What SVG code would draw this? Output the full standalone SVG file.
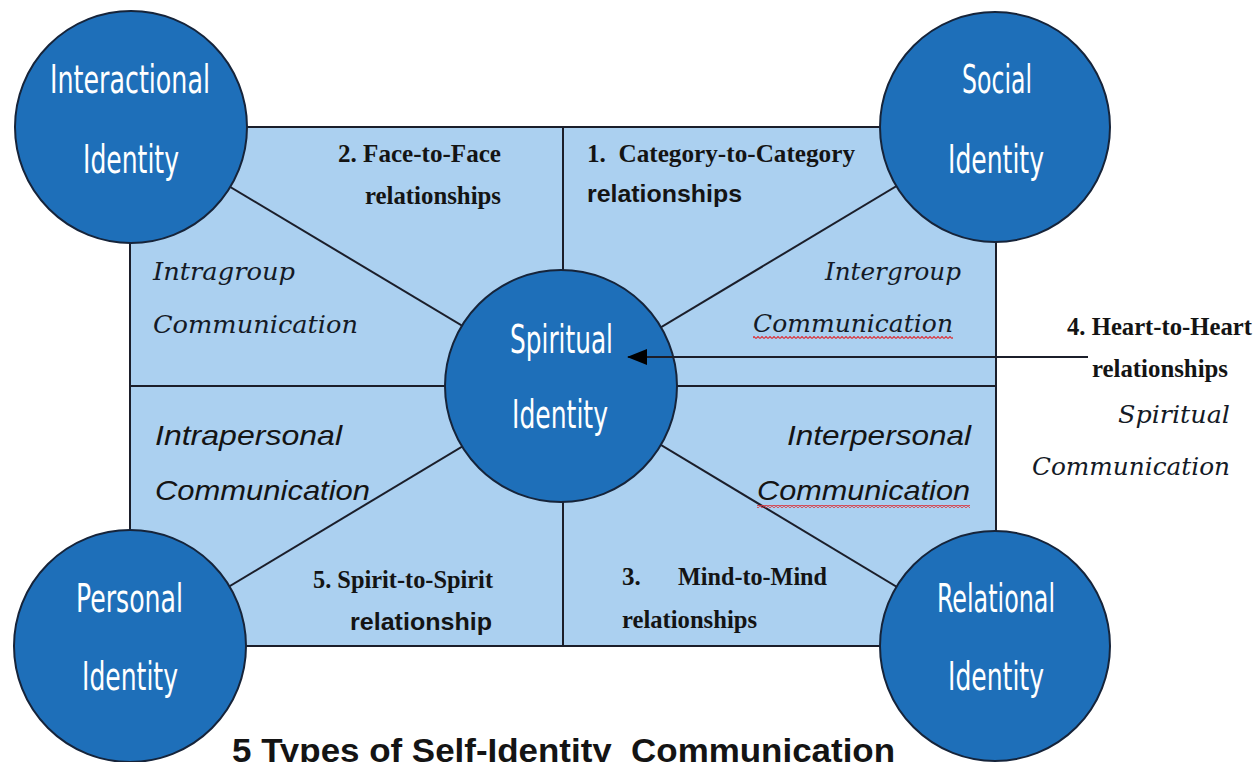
<svg xmlns="http://www.w3.org/2000/svg" width="1257" height="762" viewBox="0 0 1257 762">
  <defs>
    <style>
      .panel { fill: #abd0f0; stroke: #1b1e2a; stroke-width: 2; }
      .conn { stroke: #1b1e2a; stroke-width: 2; fill: none; }
      .node { fill: #1e6fb9; stroke: #16243a; stroke-width: 2; }
      .nt { fill: #ffffff; font-family: "Liberation Sans Narrow", "DejaVu Sans Condensed", "Liberation Sans", sans-serif; font-size: 39px; }
      .bs { fill: #141414; font-family: "Liberation Serif", "Times New Roman", serif; font-weight: bold; font-size: 25px; }
      .ba { fill: #141414; font-family: "Liberation Sans", Arial, sans-serif; font-weight: bold; font-size: 24px; }
      .is { fill: #141a26; font-family: "DejaVu Serif", "Liberation Serif", serif; font-style: italic; font-size: 24px; }
      .ia { fill: #141414; font-family: "Liberation Sans", Arial, sans-serif; font-style: italic; font-size: 28px; }
      .title { fill: #141414; font-family: "Liberation Sans", Arial, sans-serif; font-weight: bold; font-size: 33px; }
    </style>
    <pattern id="squig" x="0" y="0" width="4" height="3" patternUnits="userSpaceOnUse">
      <path d="M0,2.5 L2,0.5 L4,2.5" stroke="#d9363e" stroke-width="1.2" fill="none"/>
    </pattern>
    <marker id="arrow" markerWidth="20" markerHeight="16" refX="19" refY="8" orient="auto" markerUnits="userSpaceOnUse">
      <path d="M0,0 L20,8 L0,16 Z" fill="#000000"/>
    </marker>
  </defs>

  <rect width="1257" height="762" fill="#ffffff"/>

  <g id="panel">
    <rect class="panel" x="130" y="127" width="866" height="519"/>
  </g>

  <g id="connectors">
    <line class="conn" x1="563" y1="127" x2="563" y2="646"/>
    <line class="conn" x1="130" y1="386" x2="996" y2="386"/>
    <line class="conn" x1="130" y1="127" x2="563" y2="386"/>
    <line class="conn" x1="995" y1="127" x2="563" y2="386"/>
    <line class="conn" x1="130" y1="646" x2="563" y2="386"/>
    <line class="conn" x1="995" y1="646" x2="563" y2="386"/>
  </g>

  <g id="node-interactional">
    <circle class="node" cx="131" cy="127" r="116"/>
    <text class="nt" x="50" y="93" textLength="160" lengthAdjust="spacingAndGlyphs">Interactional</text>
    <text class="nt" x="83" y="173" textLength="96" lengthAdjust="spacingAndGlyphs">Identity</text>
  </g>
  <g id="node-social">
    <circle class="node" cx="995" cy="127" r="115"/>
    <text class="nt" x="962" y="93" textLength="70" lengthAdjust="spacingAndGlyphs">Social</text>
    <text class="nt" x="948" y="173" textLength="96" lengthAdjust="spacingAndGlyphs">Identity</text>
  </g>
  <g id="node-personal">
    <circle class="node" cx="130" cy="646" r="116"/>
    <text class="nt" x="76" y="612" textLength="107" lengthAdjust="spacingAndGlyphs">Personal</text>
    <text class="nt" x="82" y="690" textLength="96" lengthAdjust="spacingAndGlyphs">Identity</text>
  </g>
  <g id="node-relational">
    <circle class="node" cx="995" cy="646" r="115"/>
    <text class="nt" x="937" y="612" textLength="118" lengthAdjust="spacingAndGlyphs">Relational</text>
    <text class="nt" x="948" y="690" textLength="96" lengthAdjust="spacingAndGlyphs">Identity</text>
  </g>
  <g id="node-spiritual">
    <circle class="node" cx="561" cy="386" r="116"/>
    <text class="nt" x="510" y="353" textLength="103" lengthAdjust="spacingAndGlyphs">Spiritual</text>
    <text class="nt" x="512" y="428" textLength="96" lengthAdjust="spacingAndGlyphs">Identity</text>
  </g>

  <g id="arrow-heart">
    <line class="conn" x1="1088" y1="357" x2="628" y2="357" marker-end="url(#arrow)"/>
  </g>

  <g id="labels">
    <text class="bs" x="338" y="162" textLength="163" lengthAdjust="spacingAndGlyphs">2. Face-to-Face</text>
    <text class="bs" x="365" y="204" textLength="136" lengthAdjust="spacingAndGlyphs">relationships</text>

    <text class="bs" x="587" y="162" textLength="268" lengthAdjust="spacingAndGlyphs" xml:space="preserve">1.  Category-to-Category</text>
    <text class="ba" x="587" y="202" textLength="155" lengthAdjust="spacingAndGlyphs">relationships</text>

    <text class="is" x="153" y="280" textLength="142" lengthAdjust="spacingAndGlyphs">Intragroup</text>
    <text class="is" x="153" y="333" textLength="205" lengthAdjust="spacingAndGlyphs">Communication</text>

    <text class="is" x="825" y="280" textLength="136" lengthAdjust="spacingAndGlyphs">Intergroup</text>
    <text class="is" x="753" y="332" textLength="200" lengthAdjust="spacingAndGlyphs">Communication</text>
    <rect x="753" y="336" width="200" height="3" fill="url(#squig)"/>

    <text class="ia" x="155" y="445" textLength="187" lengthAdjust="spacingAndGlyphs">Intrapersonal</text>
    <text class="ia" x="155" y="500" textLength="215" lengthAdjust="spacingAndGlyphs">Communication</text>

    <text class="ia" x="787" y="445" textLength="184" lengthAdjust="spacingAndGlyphs">Interpersonal</text>
    <text class="ia" x="757" y="500" textLength="213" lengthAdjust="spacingAndGlyphs">Communication</text>
    <rect x="757" y="505" width="213" height="3" fill="url(#squig)"/>

    <text class="bs" x="313" y="588" textLength="180" lengthAdjust="spacingAndGlyphs">5. Spirit-to-Spirit</text>
    <text class="ba" x="350" y="630" textLength="142" lengthAdjust="spacingAndGlyphs">relationship</text>

    <text class="bs" x="622" y="585">3.</text>
    <text class="bs" x="678" y="585" textLength="149" lengthAdjust="spacingAndGlyphs">Mind-to-Mind</text>
    <text class="bs" x="622" y="628" textLength="135" lengthAdjust="spacingAndGlyphs">relationships</text>

    <text class="bs" x="1067" y="335" textLength="185" lengthAdjust="spacingAndGlyphs">4. Heart-to-Heart</text>
    <text class="bs" x="1092" y="377" textLength="136" lengthAdjust="spacingAndGlyphs">relationships</text>
    <text class="is" x="1118" y="423" textLength="112" lengthAdjust="spacingAndGlyphs">Spiritual</text>
    <text class="is" x="1032" y="475" textLength="198" lengthAdjust="spacingAndGlyphs">Communication</text>

    <text class="title" x="232" y="762" textLength="663" lengthAdjust="spacingAndGlyphs" xml:space="preserve">5 Types of Self-Identity  Communication</text>
  </g>
</svg>
